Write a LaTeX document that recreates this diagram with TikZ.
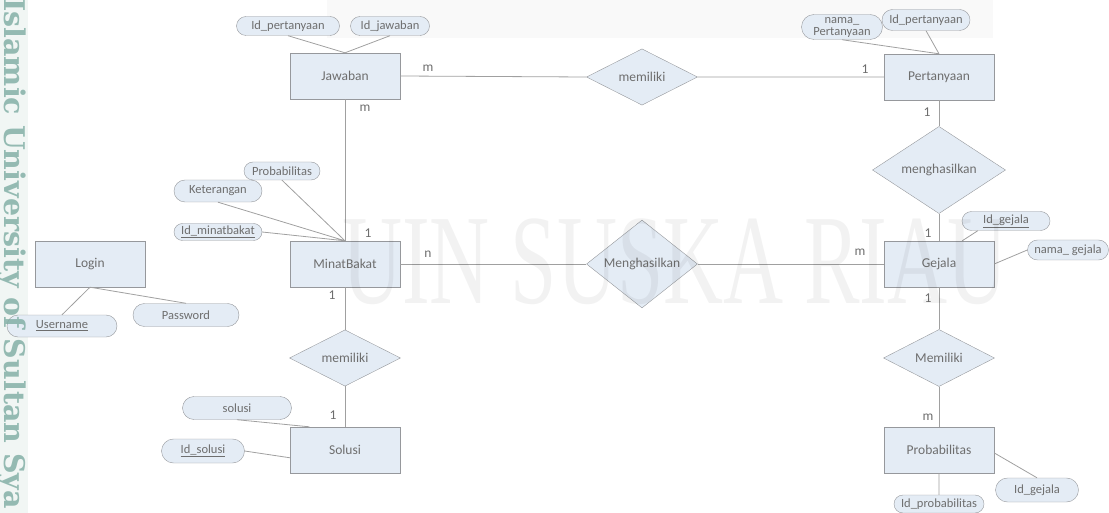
\documentclass[tikz,border=0pt]{standalone}
\usepackage{fontspec}
\setmainfont{Carlito}
\newfontfamily\wmserif{Liberation Serif}
\newfontfamily\wmslab{DejaVu Serif}
\usetikzlibrary{shapes.geometric}
\definecolor{boxfill}{RGB}{228,236,245}
\definecolor{boxline}{RGB}{150,152,156}
\definecolor{txtgray}{RGB}{110,110,110}
\definecolor{wirecol}{RGB}{160,160,160}
\definecolor{wmteal}{RGB}{125,172,162}
\definecolor{wmband}{RGB}{241,246,244}
\begin{document}
\begin{tikzpicture}[x=1pt,y=-1pt,every node/.style={font=\fontsize{13.5}{14}\selectfont,text=txtgray,inner sep=1pt},
  entity/.style={draw=boxline,fill=boxfill,minimum width=110pt,minimum height=46pt},
  relation/.style={diamond,draw=boxline,fill=boxfill,inner sep=0pt,minimum width=111pt,minimum height=46pt},
  attrib/.style={draw=boxline,fill=boxfill,align=center,font=\fontsize{12.5}{12}\selectfont},
  wire/.style={draw=wirecol,line width=0.8pt}]
\useasboundingbox (0,0) rectangle (1109,513);
% watermark strip and logo band
\fill[wmband] (0,0) rectangle (28,513);
\fill[black,opacity=0.025] (327,0) rectangle (993,38);
% entities
\foreach \n/\x/\y/\t in {jawaban/345/76/Jawaban,pertanyaan/939/77/Pertanyaan,login/90/264/Login,minat/345/264/MinatBakat,gejala/939/264/Gejala,solusi/345/450/Solusi,probab/939/450/Probabilitas}
  \node[entity] (\n) at (\x,\y) {\t};
% relationships
\node[relation] (rjp) at (642,77) {memiliki};
\node[relation] (rmg) at (642,264) {Menghasilkan};
\node[relation,minimum width=133pt,minimum height=55pt] (rpg) at (939,170) {menghasilkan};
\node[relation] (rms) at (345,358) {memiliki};
\node[relation] (rgp) at (939,358) {Memiliki};
% attributes
\foreach \n/\x/\y/\w/\h/\t in {ajp/288/26/103/19/Id\_pertanyaan,ajj/390/26/79/19/Id\_jawaban,
  apn/842/27/81/25/{nama\_\\Pertanyaan},app/926/20/88/21/Id\_pertanyaan,
  amp/282/171/76/18/Probabilitas,amk/218/191/88/22/Keterangan,ami/218/232/88/17/\underline{Id\_minatbakat},
  alu/62/326/110/22/\underline{Username},alp/186/315/106/23/Password,
  ass/237/408/109/23/solusi,asi/203/451/83/24/\underline{Id\_solusi},
  agi/1006/221/88/19/\underline{Id\_gejala},agn/1068/250/81/20/nama\_ gejala,
  abg/1037/490/83/24/Id\_gejala,abi/939/504/90/18/Id\_probabilitas}
  \node[attrib,minimum width=\w pt,minimum height=\h pt,rounded corners=\h*0.5pt] (\n) at (\x,\y) {\t};
% relationship lines
\draw[wire] (jawaban.east) -- (rjp.west) (rjp.east) -- (pertanyaan.west);
\draw[wire] (jawaban.south) -- (minat.north);
\draw[wire] (minat.east) -- (rmg.west) (rmg.east) -- (gejala.west);
\draw[wire] (pertanyaan.south) -- (rpg.north) (rpg.south) -- (gejala.north);
\draw[wire] (minat.south) -- (rms.north) (rms.south) -- (solusi.north);
\draw[wire] (gejala.south) -- (rgp.north) (rgp.south) -- (probab.north);
% attribute lines
\draw[wire] (ajp.south) -- (jawaban.north) (ajj.south) -- (jawaban.north);
\draw[wire] (apn.south) -- (pertanyaan.north) (app.south) -- (pertanyaan.north);
\draw[wire] (amp.south) -- (minat.north) (amk.south) -- (minat.north) (ami.east) -- (minat.north);
\draw[wire] (login.south) -- (alu.north) (login.south) -- (alp.north);
\draw[wire] (ass.south) -- (solusi.147) (asi.east) -- (solusi.188);
\draw[wire] (agi.199) -- (gejala.45) (agn.west) -- (gejala.east);
\draw[wire] (probab.-3) -- (abg.north) (probab.south) -- (abi.north);
% cardinalities
\foreach \n/\x/\y/\t in {k1/428/68/m,k2/865/69/1,k3/365/108/m,k4/368/233/1,k5/428/254/n,k6/860/252/m,
  k7/332/295/1,k8/333/415/1,k9/927/112/1,k10/928/233/1,k11/928/298/1,k12/928/417/m}
  \node (\n) at (\x,\y) {\t};
% watermark text
\node[rotate=-90,anchor=base west,text=wmteal,text opacity=0.8,font=\wmslab\bfseries\fontsize{28.5}{29}\selectfont] (wmside) at (5,-3) {Islamic University of Sultan Sya};
\node[text=black,text opacity=0.05,font=\wmserif\fontsize{128}{128}\selectfont,xscale=0.65] (wmmain) at (675,262) {UIN SUSKA RIAU};
\end{tikzpicture}
\end{document}
